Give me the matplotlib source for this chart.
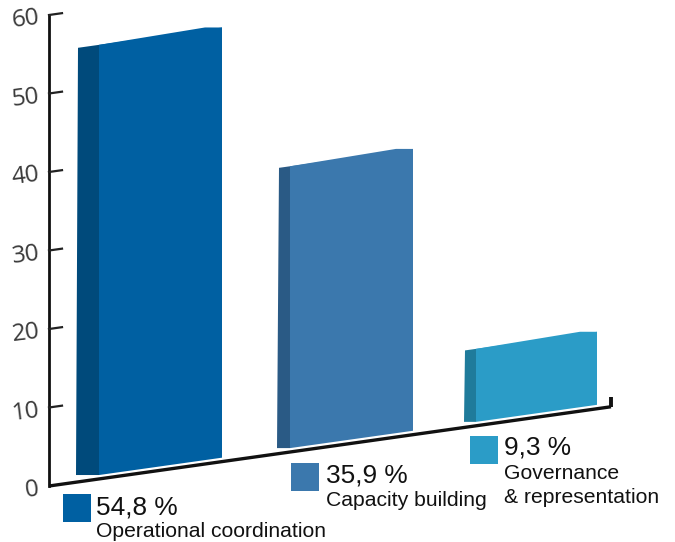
import matplotlib
matplotlib.use('Agg')
import matplotlib.pyplot as plt
from matplotlib.transforms import Affine2D

# data
categories = ['Operational coordination', 'Capacity building', 'Governance\n& representation']
shares = [54.8, 35.9, 9.3]
share_labels = ['54,8 %', '35,9 %', '9,3 %']
y_ticks = [0, 10, 20, 30, 40, 50, 60]

# colours
front = ['#0060a2', '#3b78ad', '#2b9cc7']
side = ['#004a7b', '#2a5a85', '#1f7b9b']

# layout, in pixels of the 675x542 picture
bar_left = [99, 290, 476]
bar_width = [123, 123, 121]
side_depth = [23, 13, 12]
side_inset = [2, 2, 1]
legend_box = [(63, 494), (291, 463), (470, 436)]
text_x = [96, 326, 504]
share_y = [514, 483, 455]
name_y = [537, 506, 503]

axis_x = 49
axis_y = 486
unit = 7.85
slope = 0.141
axis_end = 611
lift = 0.5

fig = plt.figure(figsize=(6.75, 5.42), dpi=100)
ax = fig.add_axes([0, 0, 1, 1])
ax.set_xlim(0, 675)
ax.set_ylim(542, 0)
ax.axis('off')

# x stays in pixels, y is a value standing on the slanted floor
floor = Affine2D.from_values(1, -slope, 0, -unit, 0, axis_y + slope * axis_x) + ax.transData

for i in range(3):
    x0 = bar_left[i]
    x1 = x0 + bar_width[i]
    d = side_depth[i]
    v = shares[i]
    # front face
    ax.bar(x0, v, bar_width[i], bottom=lift, align='edge', color=front[i],
           linewidth=0, transform=floor, zorder=3)
    # the top edge is a bit steeper and goes flat just before the right corner
    # (overlaps the bar a little so no seam shows)
    ax.fill([x0, x1 - 17, x1, x1, x0],
            [v + lift, v + lift + 0.31, v + lift, v + lift - 1, v + lift - 1],
            color=front[i], linewidth=0, transform=floor, zorder=3)
    # side face, its foot is level
    rise = slope * d / unit
    ax.fill([x0 - d, x0, x0, x0 - d + side_inset[i]],
            [lift + rise, lift, v + lift, v + lift],
            color=side[i], linewidth=0, transform=floor, zorder=2)

# axes
ax.plot([axis_x, axis_x], [0, 60], color='#111111', lw=2.0, transform=floor, zorder=4,
        solid_capstyle='projecting')
ax.plot([axis_x, axis_end], [0, 0], color='#111111', lw=2.4, transform=floor, zorder=4,
        solid_capstyle='butt')
ax.plot([axis_end, axis_end], [0, 1.25], color='#111111', lw=2.8, transform=floor, zorder=4,
        solid_capstyle='butt')

for t in y_ticks[1:]:
    ax.plot([axis_x, axis_x + 13], [t, t], color='#222222', lw=1.6, transform=floor, zorder=4)

for t in y_ticks:
    lx = 32 if t == 0 else 25.5
    ax.text(lx, axis_y - t * unit + 4.5, str(t), family='Open Sans', fontsize=17.5,
            color='#3a3a3a', rotation=7, ha='center', va='center')

# legend notes
for i in range(3):
    ax.add_patch(plt.Rectangle(legend_box[i], 28, 28, color=front[i], linewidth=0))
    ax.text(text_x[i], share_y[i], share_labels[i], family='Liberation Sans', fontsize=18.9,
            color='#111111', va='baseline')
    ax.text(text_x[i], name_y[i], categories[i], family='Liberation Sans', fontsize=15.2,
            color='#111111', va='baseline', linespacing=1.35)

fig.savefig('out.png', dpi=100)
